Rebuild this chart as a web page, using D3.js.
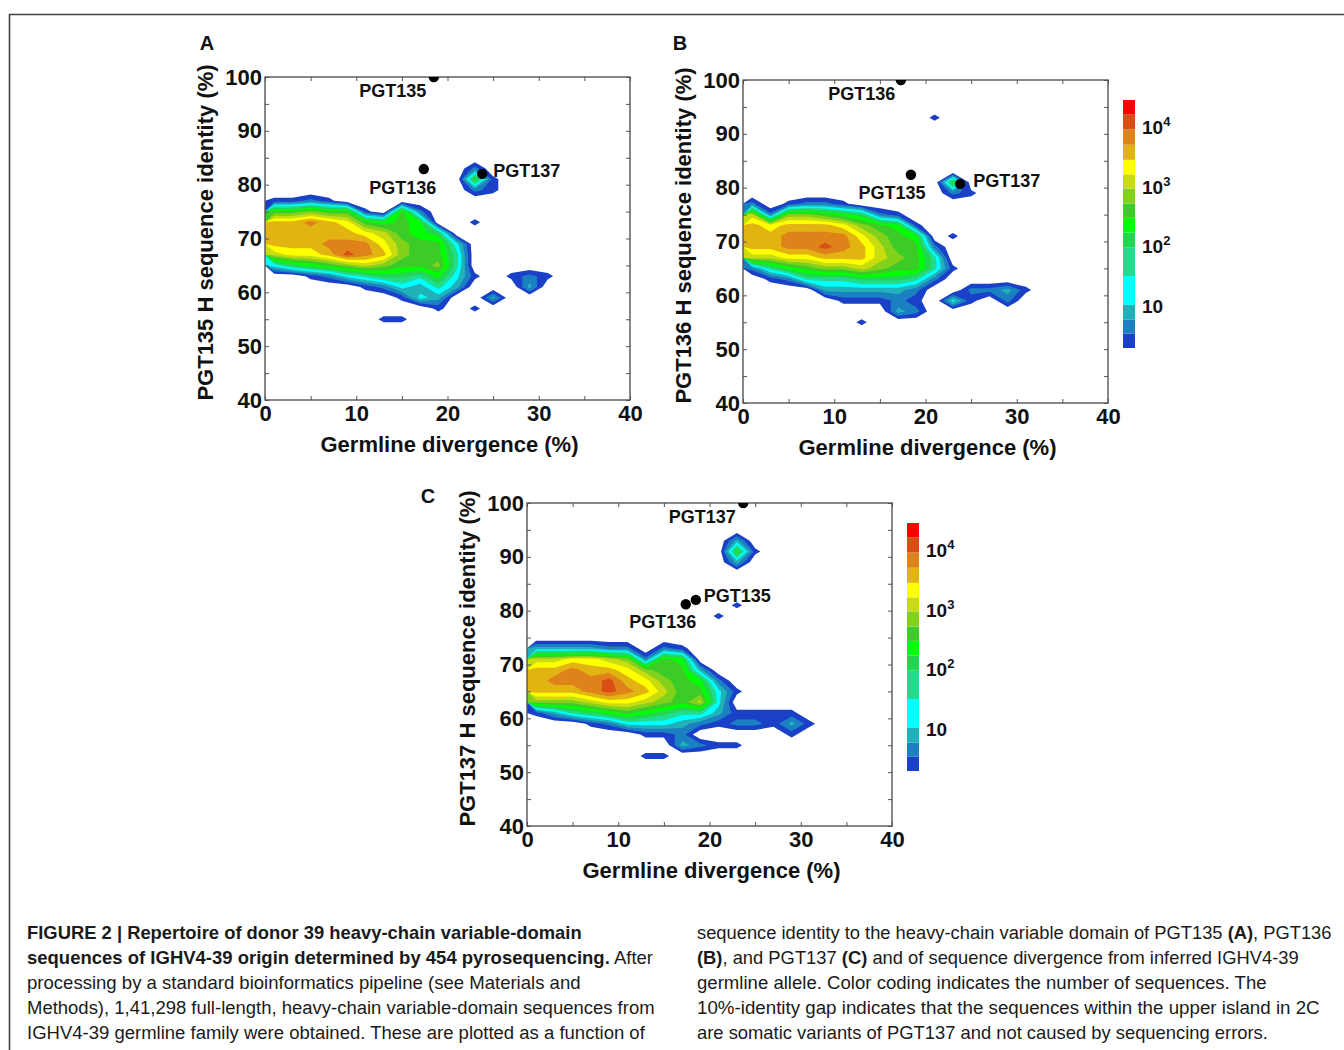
<!DOCTYPE html>
<html>
<head>
<meta charset="utf-8">
<script src="https://cdn.jsdelivr.net/npm/d3@7"></script>
<style>
  body { margin: 0; background: #fff; }
  svg { display: block; font-family: "Liberation Sans", Arial, sans-serif; }
  .tick text { font-size: 22px; font-weight: bold; fill: #111; font-family: "Liberation Sans", Arial, sans-serif; }
  .tick line { stroke: #555; stroke-width: 1; }
  .title { font-size: 22px; font-weight: bold; fill: #111; }
  .dot-label { font-size: 18px; font-weight: bold; fill: #111; }
  .letter { font-size: 20px; font-weight: bold; fill: #111; }
  .cb-label { font-size: 19px; font-weight: bold; fill: #111; }
  .caption { font-family: "Liberation Sans Narrow", "Liberation Sans", Arial, sans-serif; font-size: 19px; fill: #1a1a1a; }
</style>
</head>
<body>
<svg width="1344" height="1050"></svg>
<script>
// histogram bin centres (germline divergence %, identity %)
const binX = [1, 3, 5, 7, 9, 11, 13, 15, 17, 19, 21, 23, 25, 27, 29, 31, 33];
const binY = [97, 95, 93, 91, 89, 87, 85, 83, 81, 79, 77, 75, 73, 71, 69, 67, 65, 63, 61, 59, 57, 55, 53, 51];

// colour bands of the legend, bottom to top, and their edges in number of sequences
const bandColors = ['#1a40c8', '#1a80c2', '#20b2b8', '#00ffff', '#20dc8e', '#22d650', '#00ff00',
  '#3ccc28', '#82d21c', '#c8dc10', '#ffff00', '#e2b412', '#e0821a', '#d84e14', '#ff0000'];
const bandEdges = [2, 3.5, 6, 10.5, 32, 95, 170, 300, 520, 930, 1600, 2800, 5000, 9000, 16000, 28000];
const cbTicks = [10, 100, 1000, 10000];

const xTickLabels = [0, 10, 20, 30, 40];
const xMinorTicks = [5, 15, 25, 35];
const yTickLabels = [40, 50, 60, 70, 80, 90, 100];
const yMinorTicks = [45, 55, 65, 75, 85, 95];

// colour band read per bin ('.' = no sequences, 1..f = band index), rows follow binY, columns binX
const gridA = [
  '.................',
  '.................',
  '.................',
  '.................',
  '.................',
  '.................',
  '.................',
  '...........2.....',
  '...........71....',
  '...........21....',
  '1121.............',
  '889881.82........',
  'ccdcb8787..1.....',
  'cccccba876.......',
  'cccdddb9884......',
  'abbcedc9885......',
  '46789a98895......',
  '..1245665741.121.',
  '.....124353...3..',
  '.......143..3....',
  '.........1.1.....',
  '......11.........',
  '.................',
  '.................'
];
const gridB = [
  '.................',
  '.................',
  '..........1......',
  '.................',
  '.................',
  '.................',
  '.................',
  '.................',
  '...........7.....',
  '...........21....',
  '2.1221...........',
  'a29987621........',
  'cbcccb9871.......',
  'ccddddb987.1.....',
  'ccddedca882......',
  'aabbccca985......',
  '257899a98851.....',
  '.1255566652......',
  '....333332..2231.',
  '.....11121.41.2..',
  '........32.......',
  '......1..........',
  '.................',
  '.................'
];
const gridC = [
  '.................',
  '.................',
  '...........3.....',
  '...........71....',
  '...........3.....',
  '.................',
  '.................',
  '.................',
  '...........1.....',
  '..........1......',
  '.................',
  '.................',
  '333322.21........',
  'aabba9287........',
  'ccdccb9883.......',
  'cdddecb9872......',
  'cccdedca8841.....',
  '999abba98a4......',
  '135678765531111..',
  '...1244432122131.',
  '......112.....1..',
  '........3211.....',
  '......11.........',
  '.................'
];

// antibody reference sequences (divergence %, identity %)
const dotsA = [
  { name: 'PGT135', x: 18.5, y: 100 },
  { name: 'PGT136', x: 17.4, y: 82.9 },
  { name: 'PGT137', x: 23.8, y: 82 }
];
const dotsB = [
  { name: 'PGT136', x: 17.3, y: 100 },
  { name: 'PGT135', x: 18.4, y: 82.4 },
  { name: 'PGT137', x: 23.8, y: 80.7 }
];
const dotsC = [
  { name: 'PGT137', x: 23.7, y: 100 },
  { name: 'PGT136', x: 17.4, y: 81.2 },
  { name: 'PGT135', x: 18.5, y: 82 }
];

// label offsets from each dot, in pixels
const labelPlacement = {
  A: [[-41, 20, 'middle'], [-21, 25, 'middle'], [11, 3, 'start']],
  B: [[-39, 20, 'middle'], [-19, 24, 'middle'], [13, 3, 'start']],
  C: [[-41, 20, 'middle'], [-23, 24, 'middle'], [8, 2, 'start']]
};

const panels = [
  { id: 'A', grid: gridA, dots: dotsA, yTitle: 'PGT135 H sequence identity (%)', left: 265, top: 77, colorbar: false, letter: [207, 50] },
  { id: 'B', grid: gridB, dots: dotsB, yTitle: 'PGT136 H sequence identity (%)', left: 743, top: 80, colorbar: true, letter: [680, 50] },
  { id: 'C', grid: gridC, dots: dotsC, yTitle: 'PGT137 H sequence identity (%)', left: 527, top: 503, colorbar: true, letter: [428, 503] }
];

const captionLeft = [
  [['FIGURE 2 | Repertoire of donor 39 heavy-chain variable-domain', true]],
  [['sequences of IGHV4-39 origin determined by 454 pyrosequencing.', true], [' After', false]],
  [['processing by a standard bioinformatics pipeline (see Materials and', false]],
  [['Methods), 1,41,298 full-length, heavy-chain variable-domain sequences from', false]],
  [['IGHV4-39 germline family were obtained. These are plotted as a function of', false]]
];
const captionRight = [
  [['sequence identity to the heavy-chain variable domain of PGT135 ', false], ['(A)', true], [', PGT136', false]],
  [['(B)', true], [', and PGT137 ', false], ['(C)', true], [' and of sequence divergence from inferred IGHV4-39', false]],
  [['germline allele. Color coding indicates the number of sequences. The', false]],
  [['10%-identity gap indicates that the sequences within the upper island in 2C', false]],
  [['are somatic variants of PGT137 and not caused by sequencing errors.', false]]
];
const captionLeftWidths = [555, 626, 554, 628, 618];
const captionRightWidths = [635, 602, 570, 623, 571];

const svg = d3.select('svg');
const W = 365, H = 323;

// frame around the figure
svg.append('path')
  .attr('d', 'M9.5,1050 L9.5,14.5 L1344,14.5')
  .attr('fill', 'none').attr('stroke', '#444').attr('stroke-width', 1.6);

const x = d3.scaleLinear().domain([0, 40]).range([0, W]);
const y = d3.scaleLinear().domain([40, 100]).range([H, 0]);
const stepX = binX[1] - binX[0];
const stepY = binY[0] - binY[1];

const gridPath = d3.geoPath(d3.geoTransform({
  point: function(gx, gy) {
    this.stream.point(x(binX[0] - stepX / 2 + gx * stepX), y(binY[0] + stepY / 2 - gy * stepY));
  }
}));

const cbScale = d3.scaleLog().domain([bandEdges[0], bandEdges[bandEdges.length - 1]]).range([248, 0]);

panels.forEach(function(p) {
  const g = svg.append('g').attr('transform', 'translate(' + [p.left, p.top] + ')');

  g.append('clipPath').attr('id', 'clip' + p.id)
    .append('rect').attr('width', W).attr('height', H);

  // contour fill
  const nx = p.grid[0].length, ny = p.grid.length;
  const values = [];
  p.grid.forEach(function(row) {
    row.split('').forEach(function(ch) {
      values.push(ch === '.' ? 0 : parseInt(ch, 16) + 0.4);
    });
  });
  const contours = d3.contours().size([nx, ny]).thresholds(d3.range(1, bandColors.length + 1))(values);

  g.append('g').attr('clip-path', 'url(#clip' + p.id + ')')
    .selectAll('path')
    .data(contours)
    .enter()
    .append('path')
    .attr('d', gridPath)
    .attr('fill', function(d) { return bandColors[d.value - 1]; });

  // axes with inward ticks
  const xAll = xTickLabels.concat(xMinorTicks);
  const yAll = yTickLabels.concat(yMinorTicks);
  const fmtX = function(d) { return xTickLabels.indexOf(d) >= 0 ? d : ''; };
  const fmtY = function(d) { return yTickLabels.indexOf(d) >= 0 ? d : ''; };

  g.append('g').attr('transform', 'translate(0,' + H + ')')
    .call(d3.axisBottom(x).tickValues(xAll).tickSizeInner(-4).tickSizeOuter(0).tickPadding(5).tickFormat(fmtX));
  g.append('g')
    .call(d3.axisTop(x).tickValues(xAll).tickSizeInner(-4).tickSizeOuter(0).tickFormat(''));
  g.append('g')
    .call(d3.axisLeft(y).tickValues(yAll).tickSizeInner(-4).tickSizeOuter(0).tickPadding(3).tickFormat(fmtY));
  g.append('g').attr('transform', 'translate(' + W + ',0)')
    .call(d3.axisRight(y).tickValues(yAll).tickSizeInner(-4).tickSizeOuter(0).tickFormat(''));
  g.selectAll('.domain').remove();

  g.append('rect').attr('width', W).attr('height', H)
    .attr('fill', 'none').attr('stroke', '#555').attr('stroke-width', 1.4);

  // titles
  g.append('text').attr('class', 'title')
    .attr('text-anchor', 'middle')
    .attr('x', W / 2 + 2).attr('y', H + 52)
    .text('Germline divergence (%)');
  g.append('text').attr('class', 'title')
    .attr('text-anchor', 'middle')
    .attr('transform', 'translate(-52,' + (H / 2 - 6) + ') rotate(-90)')
    .text(p.yTitle);

  svg.append('text').attr('class', 'letter')
    .attr('text-anchor', 'middle')
    .attr('x', p.letter[0]).attr('y', p.letter[1])
    .text(p.id);

  // reference antibodies
  g.append('g').attr('clip-path', 'url(#clip' + p.id + ')')
    .selectAll('circle')
    .data(p.dots)
    .enter()
    .append('circle')
    .attr('cx', function(d) { return x(d.x); })
    .attr('cy', function(d) { return y(d.y); })
    .attr('r', 5.2)
    .attr('fill', '#000');

  g.selectAll('.dot-label')
    .data(p.dots)
    .enter()
    .append('text')
    .attr('class', 'dot-label')
    .attr('x', function(d, i) { return x(d.x) + labelPlacement[p.id][i][0]; })
    .attr('y', function(d, i) { return y(d.y) + labelPlacement[p.id][i][1]; })
    .attr('text-anchor', function(d, i) { return labelPlacement[p.id][i][2]; })
    .text(function(d) { return d.name; });

  // colour bar
  if (p.colorbar) {
    const cb = g.append('g').attr('transform', 'translate(' + (W + 15) + ',20)');
    cb.selectAll('rect')
      .data(bandColors)
      .enter()
      .append('rect')
      .attr('x', 0)
      .attr('width', 12)
      .attr('y', function(d, i) { return cbScale(bandEdges[i + 1]); })
      .attr('height', function(d, i) { return cbScale(bandEdges[i]) - cbScale(bandEdges[i + 1]); })
      .attr('fill', function(d) { return d; });

    cbTicks.forEach(function(v) {
      const t = cb.append('text').attr('class', 'cb-label')
        .attr('x', 19).attr('y', cbScale(v) + 7);
      t.append('tspan').text('10');
      const e = Math.round(Math.log10(v));
      if (e > 1) {
        t.append('tspan').attr('dy', -8).attr('font-size', 13).text(e);
      }
    });
  }
});

// caption
function captionBlock(lines, widths, x0) {
  lines.forEach(function(segs, i) {
    const t = svg.append('text').attr('class', 'caption').attr('x', 0).attr('y', 0);
    segs.forEach(function(s) {
      t.append('tspan').attr('font-weight', s[1] ? 'bold' : 'normal').text(s[0]);
    });
    const natural = t.node().getComputedTextLength();
    const k = widths[i] / natural;
    t.attr('transform', 'translate(' + x0 + ',' + (939 + i * 25) + ') scale(' + k + ',1)');
  });
}
captionBlock(captionLeft, captionLeftWidths, 27);
captionBlock(captionRight, captionRightWidths, 697);
</script>
</body>
</html>
